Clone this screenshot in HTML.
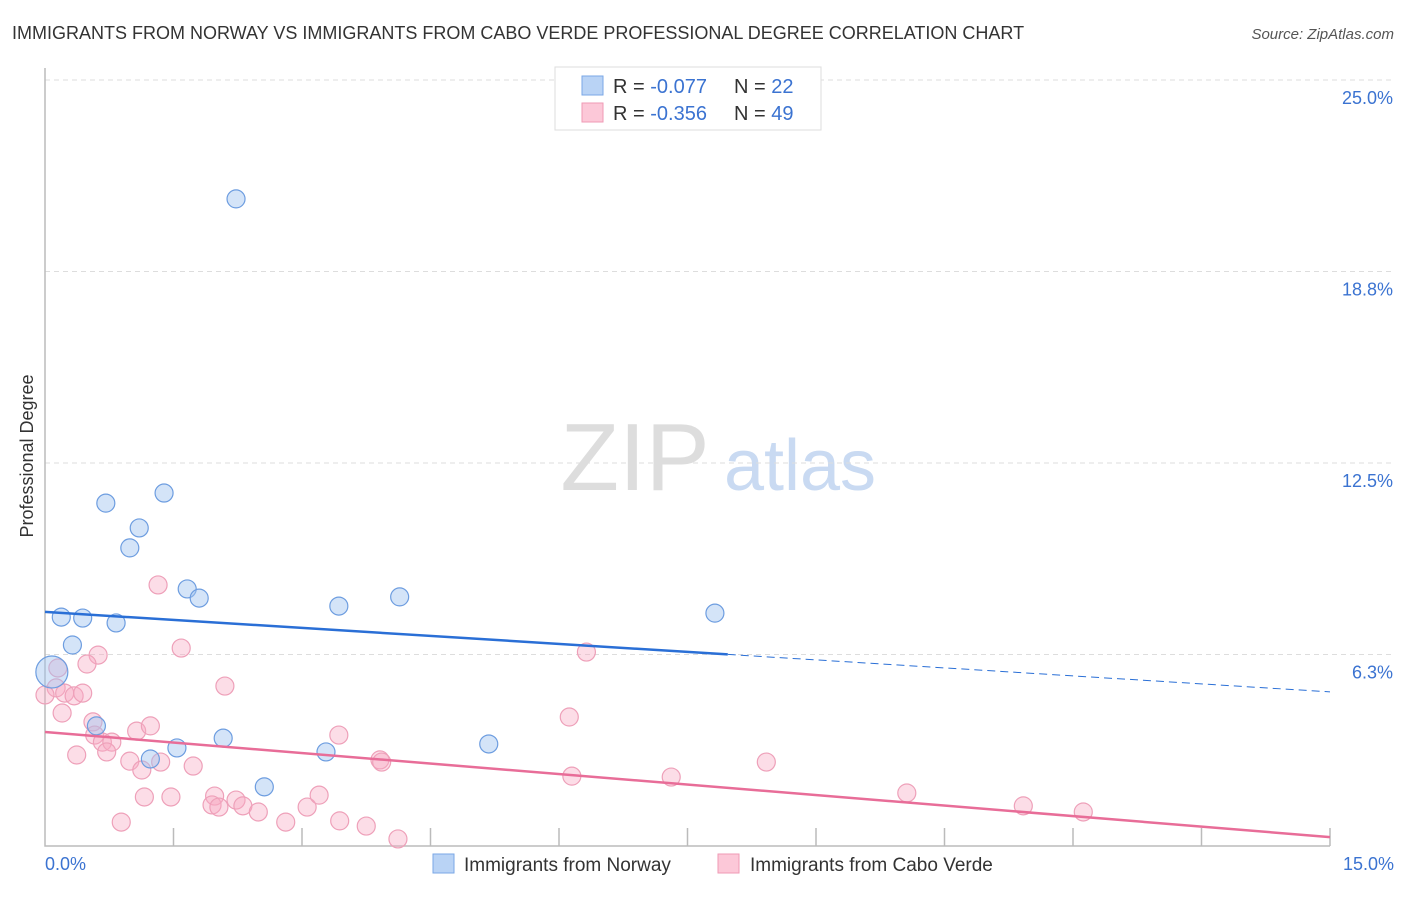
<!DOCTYPE html>
<html><head><meta charset="utf-8"><style>
body{margin:0;background:#fff;font-family:"Liberation Sans",sans-serif;}
svg text{font-family:"Liberation Sans",sans-serif;}
</style></head><body>
<svg id="chart" width="1406" height="892">
<text x="12" y="39" font-size="18" fill="#333">IMMIGRANTS FROM NORWAY VS IMMIGRANTS FROM CABO VERDE PROFESSIONAL DEGREE CORRELATION CHART</text>
<text x="1394" y="39" font-size="15" fill="#555" text-anchor="end" font-style="italic">Source: ZipAtlas.com</text>
<text transform="translate(33,456) rotate(-90)" font-size="18" fill="#333" text-anchor="middle">Professional Degree</text>
<g><text x="635" y="490" font-size="96" fill="#ddd" font-family="Liberation Serif" text-anchor="middle">ZIP</text><text x="800" y="490" font-size="72" fill="#c9daf2" text-anchor="middle">atlas</text></g>
<g id="grid"></g><g id="axes"></g><g id="marks"></g>
<g>
<rect x="555" y="67" width="266" height="63" fill="#fff" stroke="#ddd"/>
<rect x="582" y="76" width="21" height="19" fill="#b9d3f5" stroke="#7aa7e6"/>
<rect x="582" y="103" width="21" height="19" fill="#fcc8d8" stroke="#ef9ab5"/>
<text x="613" y="93" font-size="20" fill="#333">R = <tspan fill="#3b73d1">-0.077</tspan></text>
<text x="734" y="93" font-size="20" fill="#333">N = <tspan fill="#3b73d1">22</tspan></text>
<text x="613" y="120" font-size="20" fill="#333">R = <tspan fill="#3b73d1">-0.356</tspan></text>
<text x="734" y="120" font-size="20" fill="#333">N = <tspan fill="#3b73d1">49</tspan></text>
</g>
<g>
<rect x="433" y="854" width="21" height="19" fill="#b9d3f5" stroke="#7aa7e6"/>
<text x="464" y="871" font-size="19" fill="#333">Immigrants from Norway</text>
<rect x="718" y="854" width="21" height="19" fill="#fcc8d8" stroke="#ef9ab5"/>
<text x="750" y="871" font-size="19" fill="#333">Immigrants from Cabo Verde</text>
</g>
</svg>
<script>
const yTicks=[6.25,12.5,18.75,25];
const yTickLabels=["6.3%","12.5%","18.8%","25.0%"];
const xTickValues=[0,1.5,3,4.5,6,7.5,9,10.5,12,13.5,15];
const norwayX=[2.23,0.71,1.39,1.10,0.99,1.66,1.80,0.19,0.44,0.83,0.32,3.43,4.14,7.82,0.08,0.60,1.23,1.54,2.08,3.28,2.56,5.18];
const norwayY=[21.12,11.19,11.52,10.38,9.73,8.39,8.09,7.47,7.44,7.28,6.56,7.83,8.13,7.60,5.68,3.92,2.84,3.20,3.52,3.07,1.93,3.33];
const caboX=[1.32,0.62,0.49,1.59,2.10,0.15,0.13,0.23,0.34,0.44,0.0,0.20,0.56,0.58,0.67,0.78,0.72,0.37,1.07,1.23,0.99,1.13,1.35,1.73,1.98,1.95,2.03,2.23,2.31,2.49,0.89,1.16,1.47,2.81,3.06,3.20,3.43,3.91,3.93,3.44,3.75,4.12,6.12,6.32,6.15,7.31,8.42,10.06,11.42,12.12];
const caboY=[8.52,6.23,5.94,6.46,5.22,5.81,5.16,4.99,4.90,4.99,4.93,4.34,4.05,3.62,3.39,3.39,3.07,2.97,3.75,3.92,2.77,2.48,2.74,2.61,1.63,1.34,1.27,1.50,1.31,1.11,0.78,1.60,1.60,0.78,1.27,1.66,3.62,2.81,2.74,0.82,0.65,0.23,4.21,6.33,2.28,2.25,2.74,1.73,1.31,1.11];
const norwayTrend=[7.64,5.03];
const caboTrend=[3.72,0.29];
const X=v=>45+v/15*1285, Y=v=>846-v/6.25*191.5;
const NS="http://www.w3.org/2000/svg";
function mk(t,a,p){const e=document.createElementNS(NS,t);for(const k in a)e.setAttribute(k,a[k]);p.appendChild(e);return e;}
const grid=document.getElementById('grid'),axes=document.getElementById('axes'),marks=document.getElementById('marks');
yTicks.forEach((v,i)=>{
 const l=mk('line',{x1:45,x2:1394,y1:Y(v),y2:Y(v),stroke:'#ddd','stroke-dasharray':'5,4'},grid);
 
 
 const t=mk('text',{x:1393,y:Y(v)+24,'font-size':18,fill:'#3b73d1','text-anchor':'end'},grid);
 t.textContent=yTickLabels[i];
 
 
});
const ax=mk('path',{d:'M45 68V846H1330',fill:'none',stroke:'#bbb','stroke-width':1.5},axes);


xTickValues.forEach(v=>{if(v===0)return;
 const l=mk('line',{x1:X(v),x2:X(v),y1:828,y2:846,stroke:'#bbb','stroke-width':1.5},axes);
 
 
});
[[0,'0.0%','start',45],[15,'15.0%','end',1394]].forEach(d=>{
 const t=mk('text',{x:d[3],y:870,'font-size':18,fill:'#3b73d1','text-anchor':d[2]},axes);
 t.textContent=d[1];
 
 
});
caboX.forEach((x,i)=>{
 const c=mk('circle',{cx:X(x),cy:Y(caboY[i]),r:9,fill:'rgba(248,170,195,0.4)',stroke:'#eea0b9','stroke-width':1.2},marks);
 
 
});
norwayX.forEach((x,i)=>{
 const c=mk('circle',{cx:X(x),cy:Y(norwayY[i]),r:i===14?16:9,fill:'rgba(160,195,240,0.45)',stroke:'#6d9de0','stroke-width':1.2},marks);
 
 
});
const bx=7.97, byMid=norwayTrend[0]+(norwayTrend[1]-norwayTrend[0])*bx/15;
const b1=mk('line',{x1:X(0),y1:Y(norwayTrend[0]),x2:X(bx),y2:Y(byMid),stroke:'#2a6fd6','stroke-width':2.5},marks);


const b2=mk('line',{x1:X(bx),y1:Y(byMid),x2:X(15),y2:Y(norwayTrend[1]),stroke:'#2a6fd6','stroke-width':1,'stroke-dasharray':'8,5'},marks);


const p=mk('line',{x1:X(0),y1:Y(caboTrend[0]),x2:X(15),y2:Y(caboTrend[1]),stroke:'#e86d98','stroke-width':2.5},marks);


</script>
</body></html>
